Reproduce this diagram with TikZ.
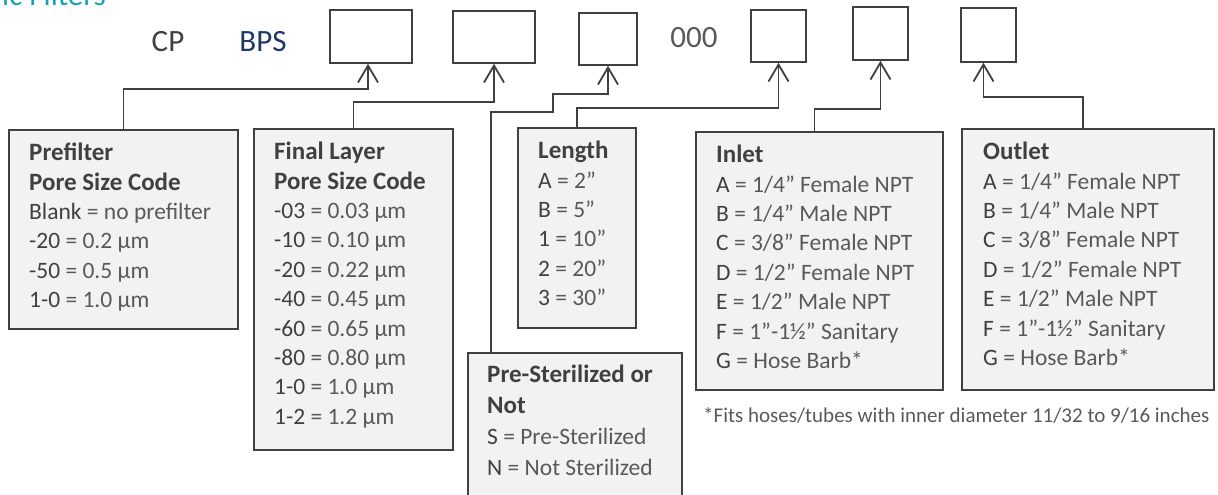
\documentclass[tikz,border=0pt]{standalone}
\usepackage{fontspec}
\setmainfont{Carlito}
\usetikzlibrary{arrows.meta}
\definecolor{dgray}{HTML}{404040}
\definecolor{lgray}{HTML}{595959}
\definecolor{boxgray}{HTML}{F2F2F2}
\definecolor{navy}{HTML}{1F3864}
\definecolor{titleteal}{HTML}{17A2B8}
\newcommand{\cd}[1]{{\color{dgray}#1}}
\newcommand{\hd}[1]{{\fontsize{25}{29.4}\selectfont\bfseries\color{dgray}#1}}
\begin{document}
\begin{tikzpicture}[x=1pt,y=-1pt,
    slot/.style={draw=dgray,fill=white,line width=1.5pt,minimum width=55pt,minimum height=53pt,inner sep=0pt},
    codebox/.style={draw=dgray,fill=boxgray,line width=2pt,anchor=north west,inner sep=0pt},
    boxtext/.style={anchor=north west,align=left,inner sep=0pt,text=lgray,font=\fontsize{23.5}{29.4}\selectfont,
      execute at begin node=\rule{0pt}{22pt}},
    arr/.style={draw=dgray,line width=1.8pt,-{Straight Barb[length=17pt,width=20pt]}}]
  \useasboundingbox (0,0) rectangle (1218,495);
  \clip (0,0) rectangle (1218,495);
  \node[anchor=base east,inner sep=0pt,text=titleteal,font=\fontsize{31}{36}\selectfont] (title) at (106,6) {ic Filters};
  \node[anchor=base,inner sep=0pt,text=dgray,font=\fontsize{31}{36}\selectfont] (cp) at (168,52) {CP};
  \node[anchor=base,inner sep=0pt,text=navy,font=\fontsize{31}{36}\selectfont] (bps) at (263,52) {BPS};
  \node[anchor=base,inner sep=0pt,text=lgray,font=\fontsize{31}{36}\selectfont] (zeros) at (694,48) {000};
  \node[slot,minimum width=82pt] (b1) at (371,36.5) {};
  \node[slot,minimum width=82pt,minimum height=52pt] (b2) at (494,37) {};
  \node[slot,minimum width=58pt,minimum height=52pt] (b3) at (608,39) {};
  \node[slot,minimum height=52pt] (b4) at (778.5,36) {};
  \node[slot] (b5) at (880.5,33.5) {};
  \node[slot,minimum height=54pt] (b6) at (988.5,35) {};
  \node[codebox,minimum width=229pt,minimum height=199pt] (pre) at (8,129) {};
  \node[codebox,minimum width=199pt,minimum height=321pt] (fin) at (253,128) {};
  \node[codebox,minimum width=118pt,minimum height=200pt] (len) at (517,127) {};
  \node[codebox,minimum width=214pt,minimum height=170pt] (ster) at (467,352) {};
  \node[codebox,minimum width=247pt,minimum height=258pt] (inl) at (695,131) {};
  \node[codebox,minimum width=252pt,minimum height=261pt] (outl) at (961,128) {};
  \node[boxtext] (pretxt) at ([shift={(21,14)}]pre.north west)
    {\hd{Prefilter}\\ \hd{Pore Size Code}\\ \cd{Blank} = no prefilter\\ \cd{-20} = 0.2 µm\\ \cd{-50} = 0.5 µm\\ \cd{1-0} = 1.0 µm};
  \node[boxtext] (fintxt) at ([shift={(21,14)}]fin.north west)
    {\hd{Final Layer}\\ \hd{Pore Size Code}\\ \cd{-03} = 0.03 µm\\ \cd{-10} = 0.10 µm\\ \cd{-20} = 0.22 µm\\ \cd{-40} = 0.45 µm\\
     \cd{-60} = 0.65 µm\\ \cd{-80} = 0.80 µm\\ \cd{1-0} = 1.0 µm\\ \cd{1-2} = 1.2 µm};
  \node[boxtext] (lentxt) at ([shift={(21,14)}]len.north west)
    {\hd{Length}\\ \cd{A} = 2”\\ \cd{B} = 5”\\ \cd{1} = 10”\\ \cd{2} = 20”\\ \cd{3} = 30”};
  \node[boxtext,font=\fontsize{23.5}{31}\selectfont] (stertxt) at ([shift={(20,13)}]ster.north west)
    {\hd{Pre-Sterilized or}\\ \hd{Not}\\ \cd{S} = Pre-Sterilized\\ \cd{N} = Not Sterilized};
  \node[boxtext] (inltxt) at ([shift={(21,14)}]inl.north west)
    {\hd{Inlet}\\ \cd{A} = 1/4” Female NPT\\ \cd{B} = 1/4” Male NPT\\ \cd{C} = 3/8” Female NPT\\ \cd{D} = 1/2” Female NPT\\
     \cd{E} = 1/2” Male NPT\\ \cd{F} = 1”-1½” Sanitary\\ \cd{G} = Hose Barb*};
  \node[boxtext] (outltxt) at ([shift={(22,14)}]outl.north west)
    {\hd{Outlet}\\ \cd{A} = 1/4” Female NPT\\ \cd{B} = 1/4” Male NPT\\ \cd{C} = 3/8” Female NPT\\ \cd{D} = 1/2” Female NPT\\
     \cd{E} = 1/2” Male NPT\\ \cd{F} = 1”-1½” Sanitary\\ \cd{G} = Hose Barb*};
  \node[anchor=base west,inner sep=0pt,text=lgray,font=\fontsize{21}{25}\selectfont] (note) at (703,422)
    {*Fits hoses/tubes with inner diameter 11/32 to 9/16 inches};
  \begin{scope}[arr]
    \draw (pre.north) -- ++(0,-40) -| ([xshift=-3]b1.south);
    \draw (fin.north) -- ++(0,-26) -| (b2.south);
    \draw ([xshift=-84]ster.north) -- ++(0,-240) -- ++(62,0) -- ++(0,-18) -| (b3.south);
    \draw (len.north) -- ++(0,-19) -| (b4.south);
    \draw ([xshift=-5]inl.north) -- ++(0,-22) -| (b5.south);
    \draw ([xshift=-5]outl.north) -- ++(0,-31) -| ([xshift=-5]b6.south);
  \end{scope}
\end{tikzpicture}
\end{document}
